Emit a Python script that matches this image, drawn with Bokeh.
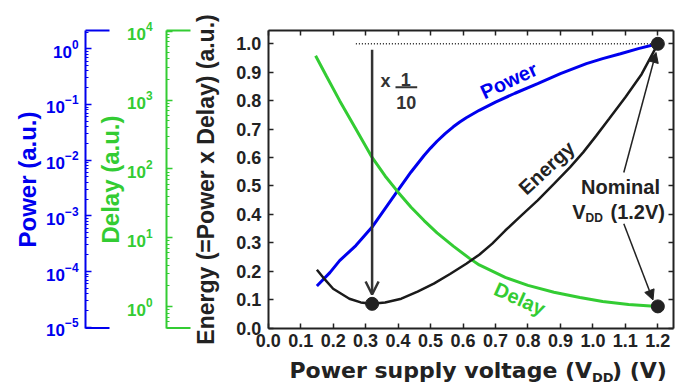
from bokeh.plotting import figure
from bokeh.models import (Range1d, LinearAxis, LogAxis, LogScale, FixedTicker, Label,
                          Arrow, NormalHead, OpenHead, LogTickFormatter, PrintfTickFormatter)
from bokeh.embed import file_html
from bokeh.resources import INLINE

# ---------------- data (energy-axis units) ----------------
vdd_power = [0.15, 0.19, 0.22, 0.27, 0.32, 0.36, 0.40, 0.44, 0.48, 0.50, 0.52, 0.545, 0.57,
             0.59, 0.61, 0.65, 0.70, 0.76, 0.83, 0.90, 0.98, 1.03, 1.085, 1.14, 1.2]
power = [0.148, 0.195, 0.237, 0.29, 0.355, 0.42, 0.485, 0.549, 0.607, 0.633, 0.657, 0.684, 0.708,
         0.725, 0.740, 0.766, 0.795, 0.826, 0.86, 0.895, 0.93, 0.948, 0.965, 0.983, 1.0]

vdd_delay = [0.146, 0.18, 0.22, 0.27, 0.32, 0.36, 0.40, 0.44, 0.48, 0.52, 0.57, 0.62, 0.65,
             0.73, 0.80, 0.88, 0.96, 1.03, 1.11, 1.2]
delay = [0.958, 0.885, 0.80, 0.70, 0.60, 0.535, 0.478, 0.425, 0.378, 0.335, 0.288, 0.245, 0.222,
         0.178, 0.150, 0.126, 0.107, 0.093, 0.083, 0.076]

vdd_energy = [0.15, 0.175, 0.20, 0.25, 0.285, 0.32, 0.36, 0.41, 0.46, 0.51, 0.56, 0.61, 0.65,
              0.69, 0.73, 0.78, 0.83, 0.88, 0.93, 0.97, 1.01, 1.05, 1.10, 1.15, 1.2]
energy = [0.205, 0.17, 0.138, 0.103, 0.09, 0.085, 0.09, 0.103, 0.128, 0.156, 0.19, 0.226, 0.258,
          0.297, 0.343, 0.396, 0.449, 0.507, 0.566, 0.618, 0.676, 0.736, 0.812, 0.893, 1.0]

x_ticks = [0.0, 0.1, 0.2, 0.3, 0.4, 0.5, 0.6, 0.7, 0.8, 0.9, 1.0, 1.1, 1.2]
y_ticks = [0.0, 0.1, 0.2, 0.3, 0.4, 0.5, 0.6, 0.7, 0.8, 0.9, 1.0]
power_ticks = [1e-5, 1e-4, 1e-3, 1e-2, 1e-1, 1e0]
delay_ticks = [1e0, 1e1, 1e2, 1e3, 1e4]

BLUE = "#0000ee"
GREEN = "#33cc33"
INK = "#222222"
HFONT = "DejaVu Sans"
RFONT = "Liberation Sans"

# ---------------- layout geometry (pixels) ----------------
W, H = 684, 385
X0_PX, PX_X = 267.7, 324.7      # pixel of V=0, pixels per volt
Y0_PX, PX_Y = 327.5, 284.2      # pixel (from top) of energy 0, pixels per unit
BOX_R_PX, BOX_T_PX = 673.0, 30.0


def dx(px):
    return (px - X0_PX) / PX_X


def dy(px):
    return (Y0_PX - px) / PX_Y


BOX_R, BOX_T = dx(BOX_R_PX), dy(BOX_T_PX)

p = figure(width=W, height=H, output_backend="svg", toolbar_location=None,
           x_range=Range1d(dx(0), dx(W)), y_range=Range1d(dy(H), dy(0)),
           x_axis_type=None, y_axis_type=None, min_border=0)
p.outline_line_color = None
p.background_fill_color = "white"
p.border_fill_color = "white"

# log axes: pixel of 10^0 and pixels per decade
DELAY_P0, DELAY_DEC = 306.0, 68.8
POWER_P0, POWER_DEC = 48.3, 55.68


def lg(p0, dec, px):
    return 10 ** ((p0 - px) / dec)


p.extra_y_ranges = {
    "delay": Range1d(lg(DELAY_P0, DELAY_DEC, H), lg(DELAY_P0, DELAY_DEC, 0)),
    "power": Range1d(lg(POWER_P0, POWER_DEC, H), lg(POWER_P0, POWER_DEC, 0)),
}
p.extra_y_scales = {"delay": LogScale(), "power": LogScale()}


def style_frame_axis(ax, labels=True):
    ax.major_tick_in = 5
    ax.major_tick_out = 0
    ax.minor_tick_line_color = None
    ax.axis_line_width = 2
    ax.axis_line_color = INK
    ax.major_tick_line_color = INK
    ax.major_tick_line_width = 1.5
    if labels:
        ax.major_label_text_font = RFONT
        ax.major_label_text_font_style = "bold"
        ax.major_label_text_font_size = "18px"
        ax.major_label_text_color = INK
    else:
        ax.major_label_text_font_size = "0px"
        ax.major_label_text_alpha = 0
        ax.major_label_standoff = 0


xaxis = LinearAxis(fixed_location=0, bounds=(0, BOX_R), ticker=FixedTicker(ticks=x_ticks),
                   formatter=PrintfTickFormatter(format="%.1f"))
style_frame_axis(xaxis)
xaxis.major_label_standoff = 6
p.add_layout(xaxis, "below")

yaxis = LinearAxis(fixed_location=0, bounds=(0, BOX_T), ticker=FixedTicker(ticks=y_ticks),
                   formatter=PrintfTickFormatter(format="%.1f"))
style_frame_axis(yaxis)
yaxis.major_label_standoff = 7
yaxis.axis_label = "Energy (=Power x Delay) (a.u.)"
yaxis.axis_label_text_font = RFONT
yaxis.axis_label_text_font_style = "bold"
yaxis.axis_label_text_font_size = "23px"
yaxis.axis_label_text_color = INK
yaxis.axis_label_standoff = 14
p.add_layout(yaxis, "left")

top = LinearAxis(fixed_location=BOX_T, bounds=(0, BOX_R), ticker=FixedTicker(ticks=x_ticks))
style_frame_axis(top, labels=False)
p.add_layout(top, "above")

right = LinearAxis(fixed_location=BOX_R, bounds=(0, BOX_T), ticker=FixedTicker(ticks=y_ticks))
style_frame_axis(right, labels=False)
p.add_layout(right, "right")


def log_axis(name, ticks, color, label, line_px, p0, dec, standoff, label_standoff):
    lo, hi = lg(p0, dec, Y0_PX), lg(p0, dec, BOX_T_PX)
    minors = [k * t / 10 for t in ticks + [ticks[-1] * 10] for k in range(2, 10)
              if lo <= k * t / 10 <= hi]
    ax = LogAxis(y_range_name=name, fixed_location=dx(line_px), bounds=(lo, hi),
                 ticker=FixedTicker(ticks=ticks, minor_ticks=minors),
                 formatter=LogTickFormatter())
    ax.major_tick_in = 6
    ax.major_tick_out = 0
    ax.minor_tick_in = 3
    ax.minor_tick_out = 0
    ax.axis_line_width = 2
    ax.axis_line_color = color
    ax.major_tick_line_color = color
    ax.major_tick_line_width = 1.5
    ax.minor_tick_line_color = color
    ax.minor_tick_line_width = 1
    ax.major_label_text_font = RFONT
    ax.major_label_text_font_style = "bold"
    ax.major_label_text_font_size = "17px"
    ax.major_label_text_color = color
    ax.major_label_standoff = standoff
    ax.axis_label = label
    ax.axis_label_text_font = RFONT
    ax.axis_label_text_font_style = "bold"
    ax.axis_label_text_font_size = "24px"
    ax.axis_label_text_color = color
    ax.axis_label_standoff = label_standoff
    p.add_layout(ax, "left")
    # bracket ends of the axis
    p.segment(x0=[dx(line_px)] * 2, x1=[dx(line_px + 24)] * 2, y0=[0, BOX_T], y1=[0, BOX_T],
              line_color=color, line_width=2)


log_axis("delay", delay_ticks, GREEN, "Delay (a.u.)", 166.0, DELAY_P0, DELAY_DEC, 14, 0)
log_axis("power", power_ticks, BLUE, "Power (a.u.)", 85.0, POWER_P0, POWER_DEC, 7, 2)

# ---------------- curves ----------------
p.line(vdd_power, power, line_color=BLUE, line_width=3)
p.line(vdd_delay, delay, line_color=GREEN, line_width=3)
p.line(vdd_energy, energy, line_color="#1a1a1a", line_width=2.5)

i_min = energy.index(min(energy))
x_min, e_min = vdd_energy[i_min], energy[i_min]
x_nom = vdd_energy[-1]

p.line([0.27, x_nom], [energy[-1], energy[-1]], line_color=INK, line_width=1.5, line_dash="1 2")

p.scatter([x_min, x_nom, vdd_delay[-1]], [e_min, energy[-1], delay[-1]],
          size=13, fill_color=INK, line_color=INK)

# x 1/10 arrow
p.add_layout(Arrow(end=OpenHead(size=13, line_width=2.5, line_color="#333333"),
                   x_start=x_min, y_start=energy[-1] - 0.021, x_end=x_min, y_end=e_min + 0.033,
                   line_color="#333333", line_width=2.5))

# labels use the bottom of the text box: glyph baseline + font descent
lbl = dict(text_font=RFONT, text_font_style="bold", text_color="#333333", text_baseline="bottom")
p.add_layout(Label(x=dx(380), y=dy(90.5), text="x", text_font_size="18px", **lbl))
p.add_layout(Label(x=dx(405.3), y=dy(85.5), text="1", text_align="center", text_font_size="18px", **lbl))
p.line([dx(395), dx(416.7)], [dy(86.7)] * 2, line_color="#333333", line_width=2)
p.add_layout(Label(x=dx(405.8), y=dy(108.8), text="10", text_align="center", text_font_size="18px", **lbl))

# curve labels
p.add_layout(Label(x=dx(508.3), y=dy(80), text="Power", angle=0.436, text_align="center",
                   text_baseline="middle", text_font=RFONT, text_font_style="bold",
                   text_font_size="20px", text_color=BLUE))
p.add_layout(Label(x=dx(546), y=dy(167.3), text="Energy", angle=0.75, text_align="center",
                   text_baseline="middle", text_font=RFONT, text_font_style="bold",
                   text_font_size="20px", text_color=INK))
p.add_layout(Label(x=dx(519.3), y=dy(298.3), text="Delay", angle=-0.42, text_align="center",
                   text_baseline="middle", text_font=RFONT, text_font_style="bold",
                   text_font_size="20px", text_color=GREEN))

# Nominal VDD annotation
nom = dict(text_font=RFONT, text_font_style="bold", text_color=INK, text_baseline="bottom")
p.add_layout(Label(x=dx(620), y=dy(197.5), text="Nominal", text_align="center",
                   text_font_size="20px", **nom))
p.add_layout(Label(x=dx(571.7), y=dy(222.5), text="V", text_font_size="20px", **nom))
p.add_layout(Label(x=dx(585), y=dy(224.5), text="DD", text_font_size="12px", **nom))
p.add_layout(Label(x=dx(610), y=dy(222.5), text="(1.2V)", text_font_size="20px", **nom))

for (x0p, y0p), (x1p, y1p) in (((623.3, 172), (655.5, 52)), ((623.3, 223.3), (652.5, 299.5))):
    p.add_layout(Arrow(end=NormalHead(size=10, fill_color=INK, line_color=INK, line_width=1),
                       x_start=dx(x0p), y_start=dy(y0p), x_end=dx(x1p), y_end=dy(y1p),
                       line_color=INK, line_width=1.5))

# x-axis title (with subscript)
xl = dict(text_font=HFONT, text_font_style="bold", text_color=INK, text_baseline="bottom")
p.add_layout(Label(x=dx(289), y=dy(382.2), text="Power supply voltage (V",
                   text_font_size="22px", **xl))
p.add_layout(Label(x=dx(591.5), y=dy(384.5), text="DD", text_font_size="13px", **xl))
p.add_layout(Label(x=dx(611.5), y=dy(382.2), text=") (V)", text_font_size="22px", **xl))

open("out.html", "w").write(file_html(p, INLINE))
